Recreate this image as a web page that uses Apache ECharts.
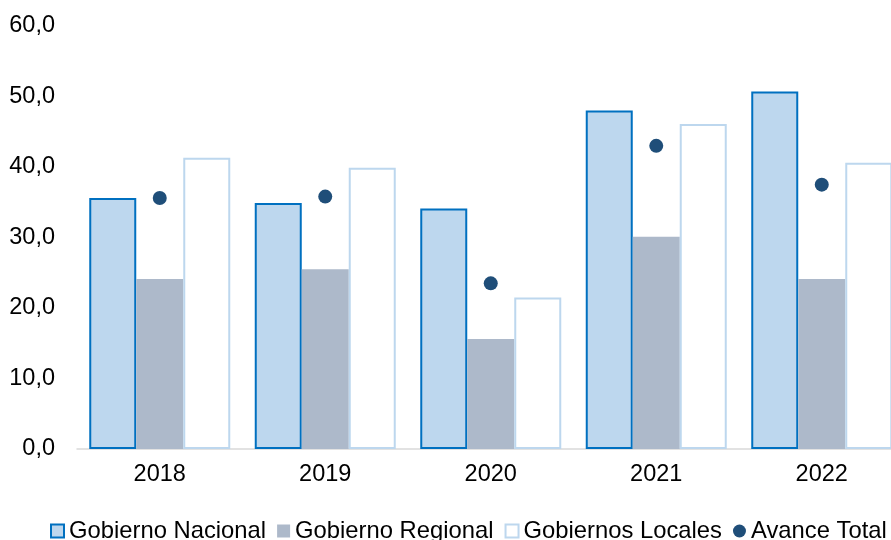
<!DOCTYPE html>
<html>
<head>
<meta charset="utf-8">
<script src="https://cdn.jsdelivr.net/npm/echarts@6/dist/echarts.min.js"></script>
<style>
html,body{margin:0;padding:0;background:#fff;}
#c{width:891px;height:540px;}
</style>
</head>
<body>
<div id="c"></div>
<script>
const years = ['2018', '2019', '2020', '2021', '2022'];
const gobiernoNacional = [35.6, 34.9, 34.1, 48.0, 50.7];
const gobiernoRegional = [24.1, 25.5, 15.6, 30.1, 24.1];
const gobiernosLocales = [41.3, 39.9, 21.5, 46.1, 40.6];
const avanceTotal = [35.6, 35.8, 23.5, 43.0, 37.5];
const yTicks = { min: 0, max: 60, interval: 10 };

const FONT = 'Arial, "Liberation Sans", sans-serif';
const chart = echarts.init(document.getElementById('c'), null, { renderer: 'canvas' });
chart.setOption({
  animation: false,
  backgroundColor: '#ffffff',
  textStyle: { fontFamily: FONT },
  grid: { left: 77, top: 26, height: 423, width: 827.5, containLabel: false, outerBoundsMode: 'none' },
  legend: {
    left: 50,
    top: 519,
    padding: 0,
    width: 1000,
    itemWidth: 13,
    itemHeight: 13,
    itemGap: 11,
    textStyle: { fontFamily: FONT, fontSize: 23.8, color: '#000' },
    data: [
      { name: 'Gobierno Nacional', icon: 'rect' },
      { name: 'Gobierno Regional', icon: 'rect' },
      { name: 'Gobiernos Locales', icon: 'rect' },
      { name: 'Avance Total', icon: 'circle' }
    ]
  },
  xAxis: {
    type: 'category',
    data: years,
    axisTick: { show: false },
    axisLine: { lineStyle: { color: '#D9D9D9', width: 1.5 } },
    axisLabel: { color: '#000', fontSize: 23.5, fontFamily: FONT, margin: 14 }
  },
  yAxis: {
    type: 'value',
    min: yTicks.min,
    max: yTicks.max,
    interval: yTicks.interval,
    axisLine: { show: false },
    axisTick: { show: false },
    splitLine: { show: false },
    axisLabel: {
      color: '#000', fontSize: 23.5, fontFamily: FONT, margin: 22,
      formatter: v => v.toFixed(1).replace('.', ',')
    }
  },
  series: [
    {
      name: 'Gobierno Nacional', type: 'bar', data: gobiernoNacional,
      barWidth: 47, barGap: '0%',
      itemStyle: { color: '#BDD7EE', borderColor: '#0070C0', borderWidth: 2 }
    },
    {
      name: 'Gobierno Regional', type: 'bar', data: gobiernoRegional,
      barWidth: 47, barGap: '0%',
      itemStyle: { color: '#ADB9CA', borderWidth: 0 }
    },
    {
      name: 'Gobiernos Locales', type: 'bar', data: gobiernosLocales,
      barWidth: 47, barGap: '0%',
      itemStyle: { color: '#FFFFFF', borderColor: '#BDD7EE', borderWidth: 2 }
    },
    {
      name: 'Avance Total', type: 'scatter', data: avanceTotal,
      symbol: 'circle', symbolSize: 14, z: 5,
      itemStyle: { color: '#1F4E79', opacity: 1 }
    }
  ]
});
</script>
</body>
</html>
